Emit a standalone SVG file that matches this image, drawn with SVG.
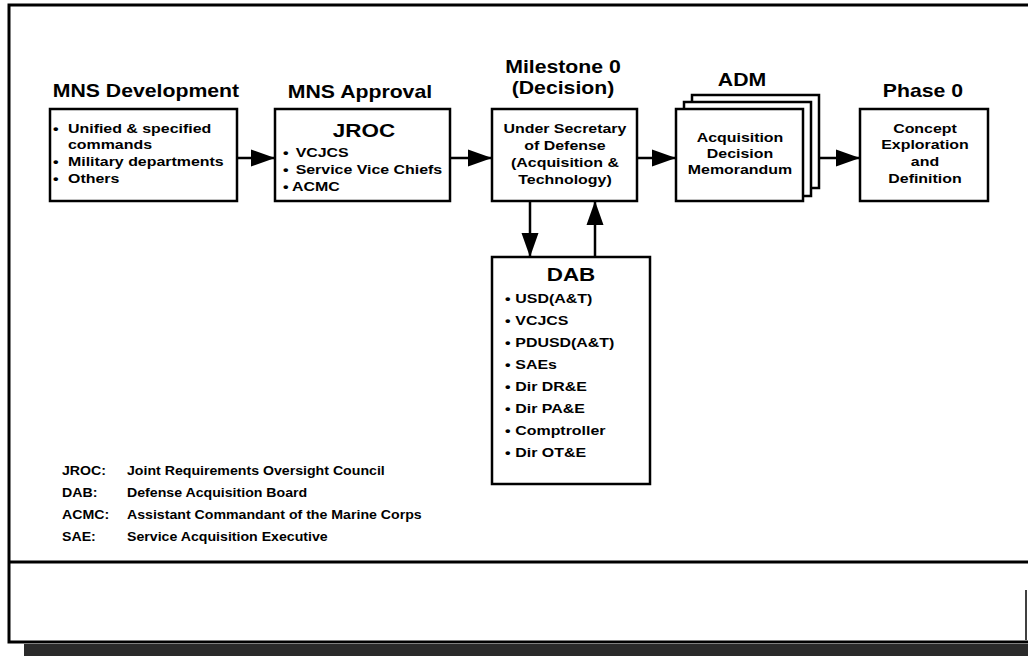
<svg xmlns="http://www.w3.org/2000/svg" width="1028" height="656" viewBox="0 0 1028 656">
<style>
text{font-family:"Liberation Sans",Arial,sans-serif;font-weight:bold;fill:#000}
.c{text-anchor:middle;transform-box:fill-box;transform-origin:50% 50%;transform:scaleX(1.18)}
.l{transform-box:fill-box;transform-origin:0 50%;transform:scaleX(1.18)}
.ttl{font-size:18px}
.big{font-size:19px}
.b{font-size:13.5px}
.lg{font-size:12px}
.box{fill:#fff;stroke:#000;stroke-width:2.5}
.con{stroke:#000;stroke-width:2.5;fill:none}
</style>
<defs>
<marker id="ah" markerUnits="userSpaceOnUse" markerWidth="24" markerHeight="18" refX="24" refY="9" orient="auto">
<path d="M0,0.5 L24,9 L0,17.5 z" fill="#000"/>
</marker>
</defs>
<rect width="1028" height="656" fill="#fff"/>
<g id="frame">
<rect x="24" y="644" width="1004" height="12" fill="#2a2a2a"/>
<path d="M1032,5 H9 V642 H1032" fill="none" stroke="#000" stroke-width="3"/>
<path d="M9,562 H1030" stroke="#000" stroke-width="3"/>
<path d="M1026,590 V640" stroke="#000" stroke-width="1.5"/>
</g>
<g id="connectors">
<path class="con" d="M237,158 H275" marker-end="url(#ah)"/>
<path class="con" d="M450,158 H492" marker-end="url(#ah)"/>
<path class="con" d="M637,158 H676" marker-end="url(#ah)"/>
<path class="con" d="M819,158 H860" marker-end="url(#ah)"/>
<path class="con" d="M530,201 V257" marker-end="url(#ah)"/>
<path class="con" d="M595,257 V201" marker-end="url(#ah)"/>
</g>
<g id="mns-development">
<text class="c ttl" x="146" y="97">MNS Development</text>
<rect class="box" x="50" y="109" width="187" height="92"/>
<text class="l b" x="53" y="133">•<tspan dx="8">Unified &amp; specified</tspan></text>
<text class="l b" x="68" y="149">commands</text>
<text class="l b" x="53" y="166">•<tspan dx="8">Military departments</tspan></text>
<text class="l b" x="53" y="183">•<tspan dx="8">Others</tspan></text>
</g>
<g id="mns-approval">
<text class="c ttl" x="360" y="98">MNS Approval</text>
<rect class="box" x="275" y="109" width="175" height="92"/>
<text class="c big" x="364" y="137">JROC</text>
<text class="l b" x="283" y="157">•<tspan dx="6">VCJCS</tspan></text>
<text class="l b" x="283" y="174">•<tspan dx="6">Service Vice Chiefs</tspan></text>
<text class="l b" x="283" y="191">•<tspan dx="3">ACMC</tspan></text>
</g>
<g id="milestone-0">
<text class="c ttl" x="563" y="73">Milestone 0</text>
<text class="c ttl" x="563" y="94">(Decision)</text>
<rect class="box" x="492" y="109" width="145" height="92"/>
<text class="c b" x="565" y="133">Under Secretary</text>
<text class="c b" x="565" y="150">of Defense</text>
<text class="c b" x="565" y="167">(Acquisition &amp;</text>
<text class="c b" x="565" y="184">Technology)</text>
</g>
<g id="adm">
<text class="c ttl" x="742" y="86">ADM</text>
<rect class="box" x="692" y="95" width="127" height="93"/>
<rect class="box" x="684" y="102" width="127" height="94"/>
<rect class="box" x="676" y="109" width="127" height="92"/>
<text class="c b" x="740" y="142">Acquisition</text>
<text class="c b" x="740" y="158">Decision</text>
<text class="c b" x="740" y="174">Memorandum</text>
</g>
<g id="phase-0">
<text class="c ttl" x="923" y="97">Phase 0</text>
<rect class="box" x="860" y="109" width="128" height="92"/>
<text class="c b" x="925" y="133">Concept</text>
<text class="c b" x="925" y="149">Exploration</text>
<text class="c b" x="925" y="166">and</text>
<text class="c b" x="925" y="183">Definition</text>
</g>
<g id="dab">
<rect class="box" x="492" y="257" width="158" height="227"/>
<text class="c big" x="571" y="281">DAB</text>
<text class="l b" x="505" y="303">•<tspan dx="4">USD(A&amp;T)</tspan></text>
<text class="l b" x="505" y="325">•<tspan dx="4">VCJCS</tspan></text>
<text class="l b" x="505" y="347">•<tspan dx="4">PDUSD(A&amp;T)</tspan></text>
<text class="l b" x="505" y="369">•<tspan dx="4">SAEs</tspan></text>
<text class="l b" x="505" y="391">•<tspan dx="4">Dir DR&amp;E</tspan></text>
<text class="l b" x="505" y="413">•<tspan dx="4">Dir PA&amp;E</tspan></text>
<text class="l b" x="505" y="435">•<tspan dx="4">Comptroller</tspan></text>
<text class="l b" x="505" y="457">•<tspan dx="4">Dir OT&amp;E</tspan></text>
</g>
<g id="legend">
<text class="l lg" x="62" y="475">JROC:</text>
<text class="l lg" x="127" y="475">Joint Requirements Oversight Council</text>
<text class="l lg" x="62" y="497">DAB:</text>
<text class="l lg" x="127" y="497">Defense Acquisition Board</text>
<text class="l lg" x="62" y="519">ACMC:</text>
<text class="l lg" x="127" y="519">Assistant Commandant of the Marine Corps</text>
<text class="l lg" x="62" y="541">SAE:</text>
<text class="l lg" x="127" y="541">Service Acquisition Executive</text>
</g>
</svg>
